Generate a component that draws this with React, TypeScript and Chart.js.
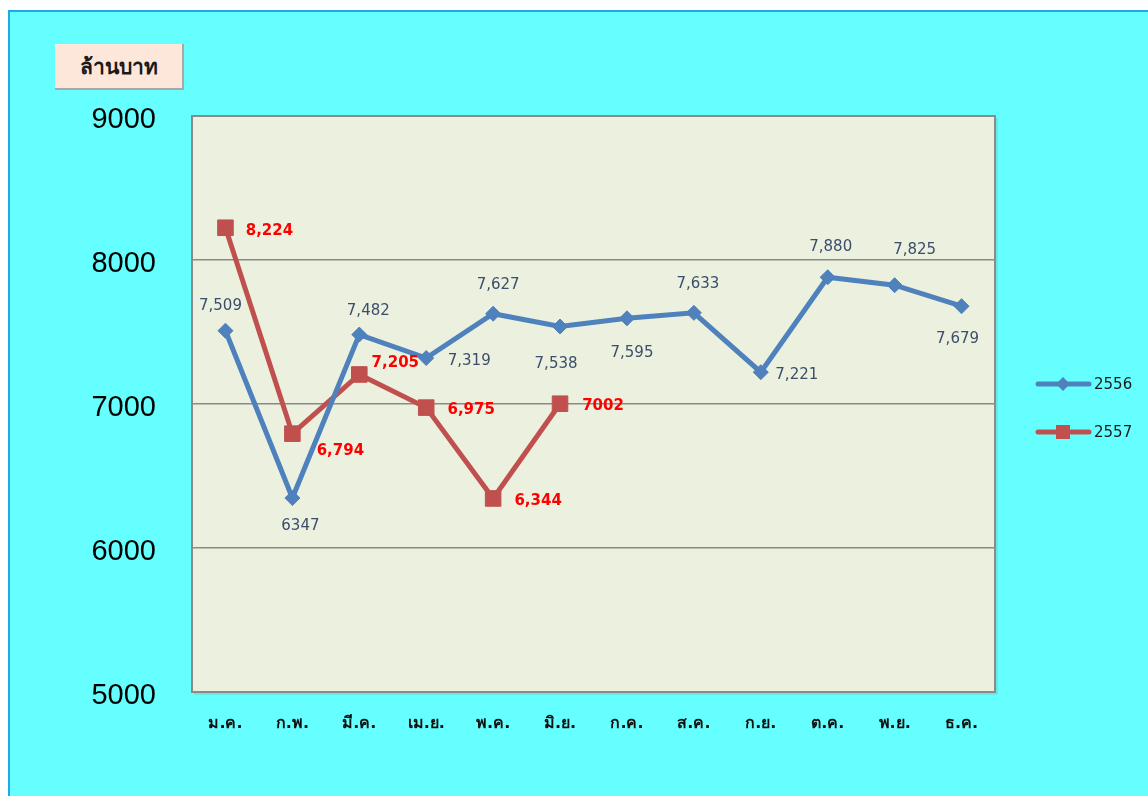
import React, { useEffect, useRef } from "react";
import { Chart, registerables } from "chart.js";

Chart.register(...registerables);

const months = ["ม.ค.", "ก.พ.", "มี.ค.", "เม.ย.", "พ.ค.", "มิ.ย.", "ก.ค.", "ส.ค.", "ก.ย.", "ต.ค.", "พ.ย.", "ธ.ค."];
const seriesNames = ["2556", "2557"];
const values2556 = [7509, 6347, 7482, 7319, 7627, 7538, 7595, 7633, 7221, 7880, 7825, 7679];
const values2557 = [8224, 6794, 7205, 6975, 6344, 7002];
const labels2556 = ["7,509", "6347", "7,482", "7,319", "7,627", "7,538", "7,595", "7,633", "7,221", "7,880", "7,825", "7,679"];
const labels2557 = ["8,224", "6,794", "7,205", "6,975", "6,344", "7002"];
const yTicks = [5000, 6000, 7000, 8000, 9000];
const unitTitle = "ล้านบาท";

// label placement (offset of label centre from its point), style only
const labelOffsets2556 = [[-5, -25], [8, 28], [9, -23], [43, 3], [5, -29], [-4, 38], [5, 35], [4, -29], [36, 3], [3, -30], [20, -35], [-4, 33]];
const labelOffsets2557 = [[44, 3], [48, 17], [36, -11], [45, 3], [45, 3], [43, 2]];

const BLUE = "#4F81BD";
const RED = "#C0504D";
const FONT = "'DejaVu Sans', Tahoma, sans-serif";

const plotPlugin = {
  id: "plotDecor",
  beforeDraw(chart: any) {
    const { ctx, chartArea: a } = chart;
    ctx.save();
    ctx.fillStyle = "#EBF0DF";
    ctx.fillRect(a.left, a.top, a.right - a.left, a.bottom - a.top);
    ctx.restore();
  },
  afterDraw(chart: any) {
    const { ctx, chartArea: a } = chart;
    ctx.save();
    ctx.strokeStyle = "#8A8A8A";
    ctx.lineWidth = 2;
    ctx.strokeRect(a.left, a.top, a.right - a.left, a.bottom - a.top);
    ctx.strokeStyle = "rgba(120,120,120,0.35)";
    ctx.lineWidth = 1;
    ctx.beginPath();
    ctx.moveTo(a.left + 2, a.bottom + 2);
    ctx.lineTo(a.right + 2, a.bottom + 2);
    ctx.lineTo(a.right + 2, a.top + 2);
    ctx.stroke();
    ctx.restore();
  },
};

const labelPlugin = {
  id: "pointLabels",
  afterDatasetsDraw(chart: any) {
    const { ctx } = chart;
    const sets = [
      { texts: labels2556, offs: labelOffsets2556, color: "#3B4E6A", weight: "normal" },
      { texts: labels2557, offs: labelOffsets2557, color: "#FF0000", weight: "bold" },
    ];
    ctx.save();
    ctx.textAlign = "center";
    ctx.textBaseline = "middle";
    sets.forEach((s, i) => {
      const meta = chart.getDatasetMeta(i);
      ctx.fillStyle = s.color;
      ctx.font = `${s.weight} 15px ${FONT}`;
      meta.data.forEach((el: any, j: number) => {
        const o = s.offs[j] || [0, -25];
        ctx.fillText(s.texts[j], el.x + o[0], el.y + o[1]);
      });
    });
    ctx.restore();
  },
};

const legendPlugin = {
  id: "sideLegend",
  afterDraw(chart: any) {
    const { ctx } = chart;
    const rows = [
      { y: 384, color: BLUE, shape: "diamond" },
      { y: 432, color: RED, shape: "square" },
    ];
    ctx.save();
    rows.forEach((r, i) => {
      ctx.strokeStyle = r.color;
      ctx.lineWidth = 5;
      ctx.lineCap = "round";
      ctx.beginPath();
      ctx.moveTo(1038, r.y);
      ctx.lineTo(1089, r.y);
      ctx.stroke();
      ctx.fillStyle = r.color;
      ctx.beginPath();
      if (r.shape === "diamond") {
        ctx.moveTo(1063, r.y - 7);
        ctx.lineTo(1070, r.y);
        ctx.lineTo(1063, r.y + 7);
        ctx.lineTo(1056, r.y);
        ctx.closePath();
      } else {
        ctx.rect(1056, r.y - 7, 14, 14);
      }
      ctx.fill();
      ctx.fillStyle = "#1A1A1A";
      ctx.font = `15px ${FONT}`;
      ctx.textAlign = "left";
      ctx.textBaseline = "middle";
      ctx.fillText(seriesNames[i], 1094, r.y + 1);
    });
    ctx.restore();
  },
};

export default function App() {
  const ref = useRef<HTMLCanvasElement | null>(null);

  useEffect(() => {
    if (!ref.current) return;
    const chart = new Chart(ref.current, {
      type: "line",
      data: {
        labels: months,
        datasets: [
          {
            label: seriesNames[0],
            data: values2556,
            borderColor: BLUE,
            backgroundColor: BLUE,
            borderWidth: 5,
            pointStyle: "rectRot",
            pointRadius: 7.5,
            pointBorderWidth: 1,
            pointBackgroundColor: BLUE,
            pointBorderColor: BLUE,
            tension: 0,
          },
          {
            label: seriesNames[1],
            data: values2557,
            borderColor: RED,
            backgroundColor: RED,
            borderWidth: 5,
            pointStyle: "rect",
            pointRadius: 11,
            pointBorderWidth: 1,
            pointBackgroundColor: RED,
            pointBorderColor: RED,
            tension: 0,
          },
        ],
      },
      options: {
        responsive: false,
        animation: false,
        devicePixelRatio: 1,
        layout: { padding: { left: 0, top: 116, right: 153, bottom: 0 } },
        plugins: {
          legend: { display: false },
          tooltip: { enabled: false },
          title: { display: false },
        },
        scales: {
          x: {
            type: "category",
            offset: true,
            grid: { display: false, drawTicks: false },
            border: { display: false },
            ticks: {
              padding: 22,
              color: "#111111",
              font: { family: FONT, size: 16, weight: "bold" },
              maxRotation: 0,
              autoSkip: false,
            },
            afterFit(scale: any) {
              scale.height = 104;
            },
          },
          y: {
            min: 5000,
            max: 9000,
            afterBuildTicks(scale: any) {
              scale.ticks = yTicks.map((v) => ({ value: v }));
            },
            grid: { color: "#8A8A8A", lineWidth: 1.5, drawTicks: false },
            border: { display: false },
            ticks: {
              padding: 36,
              labelOffset: 4,
              color: "#000000",
              font: { family: "'Liberation Sans', Arial, sans-serif", size: 29 },
              callback: (v: any) => String(v),
            },
            afterFit(scale: any) {
              scale.width = 192;
            },
          },
        },
      },
      plugins: [plotPlugin, labelPlugin, legendPlugin],
    });
    return () => chart.destroy();
  }, []);

  return (
    <div>
      <div
        style={{
          position: "fixed",
          left: 8,
          top: 10,
          right: 0,
          bottom: 0,
          background: "#66FFFF",
          borderTop: "2px solid #1FA8EE",
          borderLeft: "2px solid #1FA8EE",
        }}
      />
      <canvas
        ref={ref}
        width={1148}
        height={796}
        style={{ position: "fixed", left: 0, top: 0, width: 1148, height: 796 }}
      />
      <div
        style={{
          position: "fixed",
          left: 55,
          top: 44,
          width: 127,
          height: 44,
          background: "#FDE6DA",
          borderRight: "2px solid #A8A8A8",
          borderBottom: "2px solid #A8A8A8",
          display: "flex",
          alignItems: "center",
          justifyContent: "center",
          fontFamily: FONT,
          fontSize: 21,
          fontWeight: "bold",
          color: "#1A1A1A",
        }}
      >
        {unitTitle}
      </div>
    </div>
  );
}
